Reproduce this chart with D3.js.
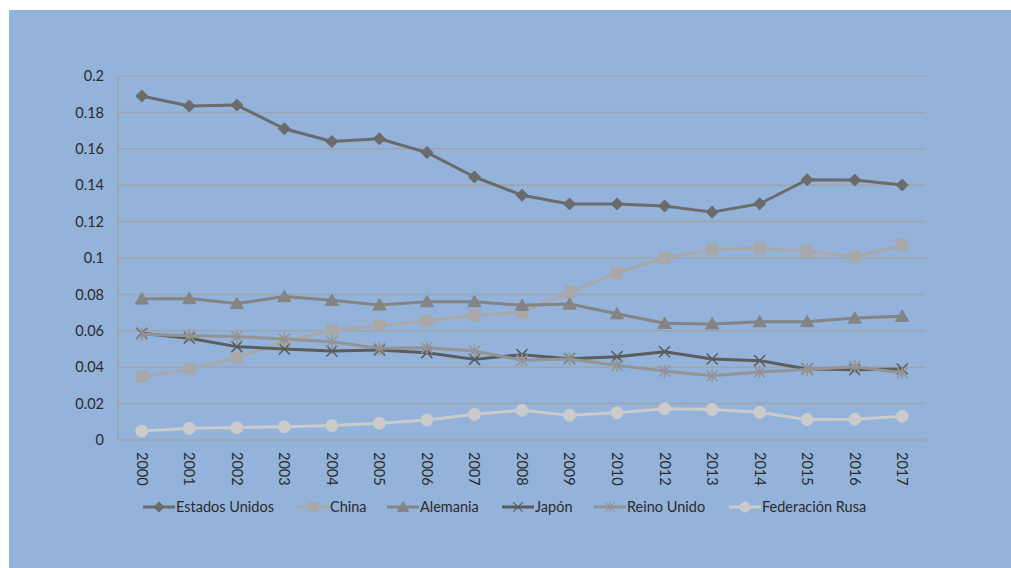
<!DOCTYPE html>
<html><head><meta charset="utf-8">
<script src="https://cdn.jsdelivr.net/npm/d3@7"></script>
<style>body{margin:0;background:#fff}svg{display:block}text{font-family:Lato,"Open Sans",sans-serif;fill:#2b2b2b}</style>
</head><body>
<svg id="c" width="1011" height="568"></svg>
<script>
const categories = ["2000","2001","2002","2003","2004","2005","2006","2007","2008","2009","2010","2012","2013","2014","2015","2016","2017"];
const estadosUnidos = [0.189,0.1835,0.184,0.171,0.164,0.1655,0.158,0.1445,0.1345,0.1297,0.1297,0.1286,0.1252,0.1298,0.1430,0.1428,0.1401];
const china = [0.0348,0.039,0.0452,0.054,0.0603,0.0628,0.0654,0.0685,0.0702,0.0813,0.0919,0.1000,0.1048,0.1053,0.1038,0.1007,0.1071];
const alemania = [0.0775,0.0777,0.075,0.0788,0.0768,0.0742,0.076,0.076,0.074,0.0747,0.0694,0.0641,0.0638,0.065,0.065,0.067,0.068];
const japon = [0.0586,0.0559,0.0513,0.050,0.0489,0.0495,0.048,0.0443,0.0469,0.0447,0.0458,0.0485,0.0445,0.0436,0.039,0.0386,0.039];
const reinoUnido = [0.0581,0.0573,0.0568,0.0555,0.054,0.0504,0.0507,0.0489,0.0438,0.0445,0.041,0.0379,0.0353,0.0374,0.0388,0.0403,0.037];
const federacionRusa = [0.0049,0.0064,0.0068,0.0073,0.008,0.0092,0.011,0.0141,0.0163,0.0136,0.015,0.0172,0.0168,0.0152,0.0112,0.0114,0.013];
const yTicks = [0,0.02,0.04,0.06,0.08,0.1,0.12,0.14,0.16,0.18,0.2];

const series = [
  {name:"Estados Unidos", values:estadosUnidos, color:"#6b6b6b", marker:"diamond"},
  {name:"China", values:china, color:"#a8a8a8", marker:"square"},
  {name:"Alemania", values:alemania, color:"#848484", marker:"triangle"},
  {name:"Japón", values:japon, color:"#5c5c5c", marker:"x"},
  {name:"Reino Unido", values:reinoUnido, color:"#939393", marker:"star"},
  {name:"Federación Rusa", values:federacionRusa, color:"#cbcbcb", marker:"circle"}
];

const svg = d3.select("#c");
svg.append("rect").attr("x",9).attr("y",10).attr("width",1002).attr("height",558).attr("fill","#93b3da");

const L=118, R=926, T=76, B=440;
const x = d3.scaleBand().domain(categories).range([L,R]);
const y = d3.scaleLinear().domain([0,0.2]).range([B,T]);
const cx = d => x(d)+x.bandwidth()/2;

// gridlines
svg.append("g").selectAll("line").data(yTicks).join("line")
  .attr("x1",L).attr("x2",R).attr("y1",d=>y(d)).attr("y2",d=>y(d))
  .attr("stroke","#9fa3ab").attr("stroke-width",1.5);
// y axis line
svg.append("line").attr("x1",L).attr("x2",L).attr("y1",T).attr("y2",B).attr("stroke","#9fa3ab").attr("stroke-width",1.5);

// y labels
svg.append("g").selectAll("text").data(yTicks).join("text")
  .attr("x",104).attr("y",d=>y(d)).attr("dy","0.36em").attr("text-anchor","end")
  .style("font-size","14.5px").text(d=>d3.format("~g")(d));

// x labels
svg.append("g").selectAll("text").data(categories).join("text")
  .attr("transform",d=>`translate(${cx(d)},452) rotate(90)`)
  .attr("dy","0.35em").attr("text-anchor","start").style("font-size","14.5px").text(d=>d);

function markerPath(type, s){
  switch(type){
    case "diamond": return `M0,${-s}L${s},0L0,${s}L${-s},0Z`;
    case "square": return `M${-s},${-s}H${s}V${s}H${-s}Z`;
    case "triangle": return `M0,${-s*1.05}L${s*1.1},${s*0.85}L${-s*1.1},${s*0.85}Z`;
    case "x": return `M${-s},${-s}L${s},${s}M${s},${-s}L${-s},${s}`;
    case "star": return `M${-s},${-s}L${s},${s}M${s},${-s}L${-s},${s}M0,${-s*1.2}V${s*1.2}`;
    case "circle": return `M${s},0A${s},${s} 0 1,1 ${-s},0A${s},${s} 0 1,1 ${s},0Z`;
  }
}
const msize = {diamond:6,square:5.5,triangle:6,x:5.5,star:5.5,circle:6};
const line = d3.line().x((d,i)=>cx(categories[i])).y(d=>y(d));

series.forEach(s=>{
  const g = svg.append("g");
  g.append("path").attr("d",line(s.values)).attr("fill","none").attr("stroke",s.color).attr("stroke-width",3).attr("stroke-linejoin","round");
  const open = s.marker==="x"||s.marker==="star";
  g.selectAll("path.m").data(s.values).join("path").attr("class","m")
    .attr("transform",(d,i)=>`translate(${cx(categories[i])},${y(d)})`)
    .attr("d",markerPath(s.marker,msize[s.marker]))
    .attr("fill",open?"none":s.color).attr("stroke",s.color).attr("stroke-width",open?1.5:1);
});

// legend
const legX = [143,297,387,502,594,729];
const lg = svg.append("g");
series.forEach((s,i)=>{
  const g = lg.append("g").attr("transform",`translate(${legX[i]},507)`);
  g.append("line").attr("x1",0).attr("x2",32).attr("stroke",s.color).attr("stroke-width",3);
  const open = s.marker==="x"||s.marker==="star";
  g.append("path").attr("transform","translate(16,0)").attr("d",markerPath(s.marker,msize[s.marker]*0.85))
    .attr("fill",open?"none":s.color).attr("stroke",s.color).attr("stroke-width",open?1.2:1);
  g.append("text").attr("x",33).attr("dy","0.36em").style("font-size","14.5px").text(s.name);
});
</script>
</body></html>
